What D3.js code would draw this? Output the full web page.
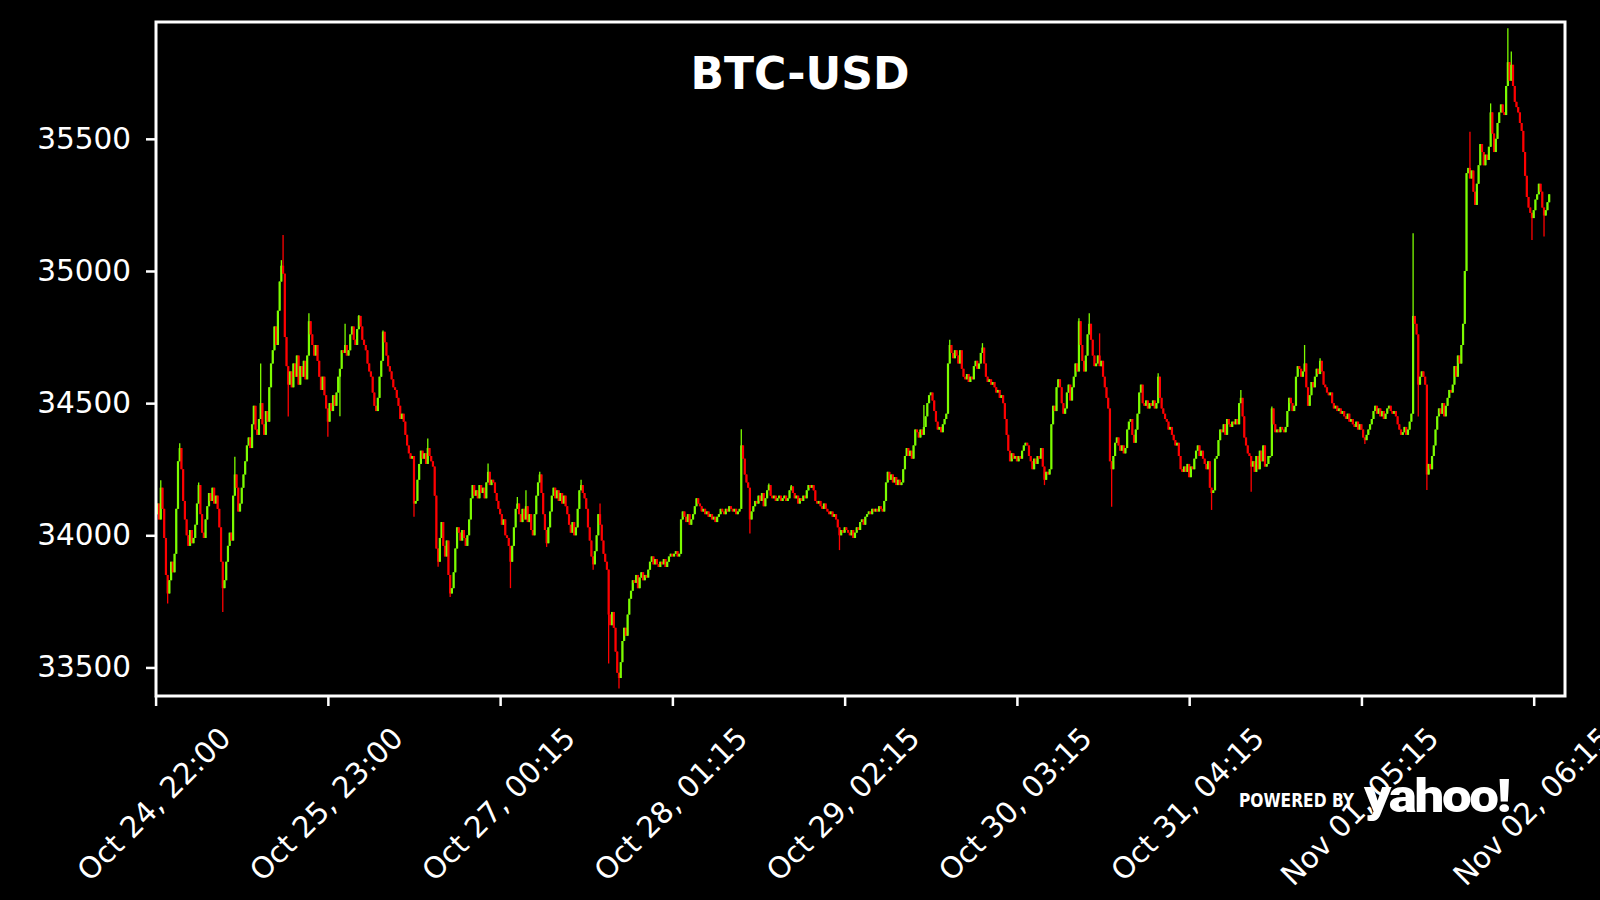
<!DOCTYPE html>
<html><head><meta charset="utf-8">
<script src="https://cdn.jsdelivr.net/npm/d3@7/dist/d3.min.js"></script>
<style>html,body{margin:0;background:#000;}svg{display:block}</style>
</head><body>
<svg id="chart" width="1600" height="900"></svg>
<script>
const title = "BTC-USD";
const firstOpen = 34060;
// 15-minute closes, index 0..809
const closes = [
34080,34120,34060,34180,34100,33990,33850,33780,33830,33900,
33860,33930,34100,34280,34330,34250,34130,34060,34000,33960,
34020,33970,33990,34040,34120,34190,34080,34010,33990,34060,
34110,34160,34130,34180,34120,34150,34100,34030,33900,33800,
33830,33900,33960,34010,33980,34150,34230,34180,34090,34120,
34180,34230,34280,34340,34370,34330,34420,34490,34400,34380,
34440,34500,34420,34380,34470,34430,34560,34650,34700,34790,
34720,34850,34960,35020,34990,34750,34640,34570,34620,34560,
34650,34600,34680,34570,34640,34600,34660,34590,34680,34810,
34760,34720,34680,34720,34660,34600,34550,34600,34530,34480,
34430,34500,34470,34530,34490,34540,34600,34630,34700,34690,
34720,34680,34700,34760,34790,34740,34720,34780,34830,34790,
34740,34720,34700,34650,34620,34600,34540,34490,34470,34520,
34600,34660,34770,34730,34680,34640,34620,34590,34560,34550,
34520,34490,34440,34460,34430,34380,34340,34310,34290,34300,
34120,34130,34210,34270,34320,34290,34310,34270,34330,34300,
34280,34260,34150,33950,33900,33990,34050,33960,33920,33980,
33850,33780,33800,33860,33950,34030,34010,33980,34020,33990,
33960,34000,34060,34140,34190,34150,34170,34140,34190,34160,
34180,34140,34200,34240,34190,34210,34200,34160,34130,34100,
34080,34040,34060,34000,33990,33960,33900,33960,34030,34100,
34120,34080,34050,34100,34060,34110,34050,34080,34020,34000,
34080,34150,34200,34230,34160,34080,34020,33970,34030,34090,
34150,34180,34140,34170,34130,34160,34120,34150,34110,34080,
34040,34010,34050,34000,34030,34100,34170,34190,34160,34140,
34100,34030,33980,33920,33890,33940,34000,34080,34040,33980,
33930,33900,33870,33700,33660,33710,33650,33560,33480,33460,
33520,33600,33650,33620,33700,33760,33790,33830,33820,33850,
33800,33840,33860,33830,33850,33840,33870,33900,33920,33890,
33910,33890,33880,33900,33890,33910,33880,33900,33920,33930,
33920,33930,33940,33920,33930,34060,34090,34070,34050,34080,
34040,34060,34080,34110,34140,34120,34110,34090,34100,34080,
34090,34070,34080,34060,34070,34050,34070,34080,34100,34090,
34080,34100,34090,34110,34100,34090,34100,34080,34090,34100,
34340,34290,34230,34200,34180,34060,34090,34110,34130,34120,
34150,34130,34160,34110,34140,34170,34190,34150,34140,34150,
34130,34140,34150,34130,34140,34150,34130,34140,34170,34185,
34160,34140,34150,34120,34140,34130,34150,34140,34170,34190,
34180,34190,34170,34130,34120,34130,34110,34100,34120,34100,
34090,34080,34090,34070,34080,34060,34030,34000,34020,34010,
34030,34020,34010,34000,34020,33990,34010,34030,34020,34050,
34060,34040,34070,34080,34090,34080,34100,34090,34100,34090,
34110,34100,34090,34130,34200,34240,34210,34230,34200,34220,
34190,34210,34190,34200,34250,34300,34330,34300,34320,34290,
34340,34400,34390,34370,34400,34380,34410,34450,34500,34530,
34540,34510,34470,34430,34400,34410,34390,34420,34440,34460,
34650,34720,34690,34670,34700,34680,34650,34700,34630,34600,
34590,34610,34580,34600,34590,34640,34660,34630,34650,34690,
34710,34650,34600,34580,34590,34570,34580,34560,34540,34550,
34520,34530,34500,34440,34380,34320,34280,34310,34290,34300,
34280,34300,34290,34320,34340,34350,34340,34300,34280,34250,
34290,34270,34300,34290,34330,34260,34210,34240,34230,34250,
34420,34490,34470,34560,34590,34560,34500,34460,34480,34540,
34570,34510,34560,34600,34650,34620,34810,34720,34660,34620,
34680,34760,34800,34740,34680,34640,34650,34680,34640,34660,
34600,34560,34520,34480,34280,34250,34300,34350,34370,34340,
34320,34340,34310,34330,34400,34430,34440,34380,34350,34400,
34460,34540,34570,34500,34490,34510,34480,34500,34490,34510,
34480,34500,34600,34520,34480,34460,34440,34430,34400,34410,
34380,34360,34340,34350,34300,34250,34240,34260,34240,34270,
34220,34260,34250,34290,34320,34340,34300,34320,34290,34270,
34250,34280,34180,34160,34170,34290,34300,34360,34400,34390,
34420,34380,34440,34420,34410,34430,34420,34440,34420,34500,
34520,34450,34370,34340,34310,34300,34260,34280,34240,34300,
34250,34320,34280,34340,34260,34270,34300,34300,34480,34420,
34390,34400,34390,34410,34400,34390,34410,34470,34520,34500,
34470,34490,34600,34640,34630,34600,34620,34650,34560,34490,
34530,34580,34560,34600,34630,34610,34660,34620,34570,34560,
34540,34530,34540,34500,34480,34490,34470,34480,34460,34470,
34450,34440,34460,34430,34440,34420,34410,34430,34400,34420,
34400,34370,34360,34380,34400,34420,34440,34470,34490,34460,
34480,34450,34470,34440,34460,34480,34490,34470,34460,34470,
34450,34420,34400,34380,34390,34410,34380,34400,34430,34460,
34830,34800,34760,34570,34600,34620,34600,34570,34230,34270,
34250,34300,34340,34400,34450,34480,34460,34500,34450,34490,
34520,34550,34540,34570,34640,34600,34680,34650,34720,34800,
35000,35370,35390,35350,35380,35300,35250,35330,35400,35480,
35450,35400,35440,35420,35470,35600,35520,35450,35500,35560,
35600,35630,35600,35590,35700,35790,35720,35780,35700,35640,
35620,35600,35560,35530,35450,35360,35280,35240,35220,35200,
35230,35270,35290,35330,35300,35240,35210,35230,35260,35290
];
// notable wick extremes: [index, price]
const wickHighs = [[3,34208],[14,34348],[25,34200],[46,34297],[61,34650],[73,35041],[74,35136],[89,34840],[110,34800],[118,34833],[132,34775],[158,34366],[193,34272],[210,34145],[215,34170],[223,34240],[247,34210],[258,34120],[340,34401],[356,34196],[369,34190],[446,34493],[461,34740],[480,34727],[536,34821],[542,34840],[548,34764],[582,34613],[630,34550],[648,34487],[667,34720],[676,34670],[730,35143],[763,35527],[775,35634],[785,35918],[787,35830]];
const wickLows = [[7,33742],[39,33710],[77,34449],[100,34373],[107,34450],[150,34070],[164,33881],[171,33767],[206,33800],[227,33956],[254,33870],[263,33515],[269,33420],[345,34007],[397,33944],[516,34190],[555,34108],[613,34096],[636,34165],[702,34345],[733,34449],[738,34171],[799,35117],[806,35130]];
const xTickIndex = [0,100,200,300,400,500,600,700,800];
const xTickLabels = ["Oct 24, 22:00","Oct 25, 23:00","Oct 27, 00:15","Oct 28, 01:15","Oct 29, 02:15","Oct 30, 03:15","Oct 31, 04:15","Nov 01, 05:15","Nov 02, 06:15"];
const yTicks = [33500,34000,34500,35000,35500];

const upColor = "#7CFC00", downColor = "#FF0000";
const svg = d3.select("#chart");
const P = {left:156, right:1565, top:22, bottom:696};
const x = d3.scaleLinear().domain([0,818]).range([155.6,1564.7]);
const y = d3.scaleLinear().domain([33392,35942]).range([P.bottom,P.top]);

const hiMap = new Map(wickHighs), loMap = new Map(wickLows);
const candles = closes.map((c,i)=>{
  const o = i===0 ? firstOpen : closes[i-1];
  let h = Math.max(o,c), l = Math.min(o,c);
  if (hiMap.has(i)) h = Math.max(h, hiMap.get(i));
  if (loMap.has(i)) l = Math.min(l, loMap.get(i));
  return {i,o,c,h,l,up:c>=o};
});

svg.append("rect").attr("width",1600).attr("height",900).attr("fill","#000");
svg.append("defs").append("clipPath").attr("id","plotclip").append("rect")
  .attr("x",P.left).attr("y",P.top).attr("width",P.right-P.left).attr("height",P.bottom-P.top);

const g = svg.append("g").attr("clip-path","url(#plotclip)");
const bw = 2.2;
g.selectAll("line.wick").data(candles).join("line").attr("class","wick")
  .attr("x1",d=>x(d.i)).attr("x2",d=>x(d.i))
  .attr("y1",d=>y(d.h)).attr("y2",d=>y(d.l))
  .attr("stroke",d=>d.up?upColor:downColor).attr("stroke-width",1.3);
g.selectAll("rect.body").data(candles).join("rect").attr("class","body")
  .attr("x",d=>x(d.i)-bw/2).attr("width",bw)
  .attr("y",d=>y(Math.max(d.o,d.c)))
  .attr("height",d=>Math.max(1.5, Math.abs(y(d.o)-y(d.c))))
  .attr("fill",d=>d.up?upColor:downColor);

// axes
const font = "'DejaVu Sans', sans-serif";
const yAxis = svg.append("g").attr("transform",`translate(${P.left},0)`)
  .call(d3.axisLeft(y).tickValues(yTicks).tickFormat(d3.format("d")).tickSize(10).tickPadding(15));
const xAxis = svg.append("g").attr("transform",`translate(0,${P.bottom})`)
  .call(d3.axisBottom(x).tickValues(xTickIndex).tickFormat((d,i)=>xTickLabels[i]).tickSize(10).tickPadding(0));
[yAxis,xAxis].forEach(a=>{
  a.select(".domain").remove();
  a.selectAll(".tick line").attr("stroke","#fff").attr("stroke-width",2.5);
  a.selectAll(".tick text").attr("fill","#fff").style("font-family",font).style("font-size","29.5px");
});
xAxis.selectAll(".tick text").each(function(){
  const t = d3.select(this);
  t.attr("y",null).attr("dy",null).attr("text-anchor","middle").attr("dominant-baseline","central");
  const w = this.getComputedTextLength();
  const cy = 25 + (w + 33.8) * 0.35355;
  t.attr("transform",`translate(-2,${cy}) rotate(-45)`);
});

// frame
svg.append("rect").attr("x",P.left).attr("y",P.top).attr("width",P.right-P.left).attr("height",P.bottom-P.top)
  .attr("fill","none").attr("stroke","#fff").attr("stroke-width",3);

// title
svg.append("text").attr("x",800).attr("y",89).attr("text-anchor","middle")
  .attr("fill","#fff").style("font-family",font).style("font-weight","bold").style("font-size","44px").text(title);

// watermark
svg.append("text").attr("x",1239).attr("y",807).attr("fill","#fff")
  .attr("textLength",115).attr("lengthAdjust","spacingAndGlyphs")
  .style("font-family","'DejaVu Sans Condensed','DejaVu Sans',sans-serif").style("font-weight","bold").style("font-size","19px")
  .text("POWERED BY");
svg.append("text").attr("x",1364).attr("y",812).attr("fill","#fff")
  .attr("textLength",145).attr("lengthAdjust","spacingAndGlyphs")
  .style("font-family","Roboto, sans-serif").style("font-weight","900").style("font-size","46px").style("letter-spacing","-2px")
  .text("yahoo!");
</script>
</body></html>
